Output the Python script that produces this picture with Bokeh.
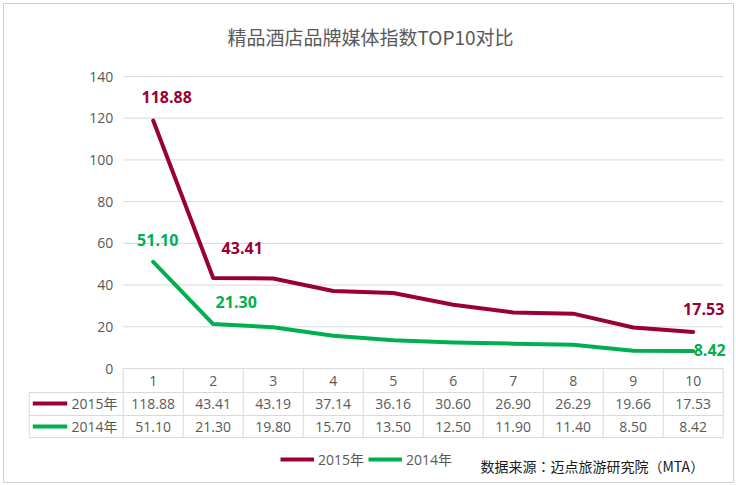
from bokeh.plotting import figure
from bokeh.models import Range1d, ColumnDataSource, Legend, LegendItem
from bokeh.embed import file_html
from bokeh.resources import INLINE
from bokeh.core.properties import value

# ---------------- data ----------------
title_text = "精品酒店品牌媒体指数TOP10对比"
source_note = "数据来源：迈点旅游研究院（MTA）"
categories = [1, 2, 3, 4, 5, 6, 7, 8, 9, 10]
category_labels = ["1", "2", "3", "4", "5", "6", "7", "8", "9", "10"]
series_names = ["2015年", "2014年"]
values_2015 = [118.88, 43.41, 43.19, 37.14, 36.16, 30.60, 26.90, 26.29, 19.66, 17.53]
values_2014 = [51.10, 21.30, 19.80, 15.70, 13.50, 12.50, 11.90, 11.40, 8.50, 8.42]
y_ticks = [0, 20, 40, 60, 80, 100, 120, 140]
y_tick_labels = ["0", "20", "40", "60", "80", "100", "120", "140"]
labelled_2015 = [0, 1, 9]
labelled_2014 = [0, 1, 9]

# ---------------- style / layout ----------------
COLORS = ["#990033", "#00b050"]
GREY = "#595959"
GRID = "#d9d9d9"
LATIN = "'Open Sans', 'Noto Sans CJK SC'"
CJK = "'Noto Sans CJK SC'"
CJK_NOTE = "'Noto Sans CJK TC'"
W, H = 736, 485
B = 3                                  # outer border inset
PLOT_LEFT, COL_W = 122.7, 60.0         # px of x=0.5, px per category
ZERO_Y, PX_PER_UNIT = 368.0, 292.0 / 140.0

X0 = 0.5 + (B - PLOT_LEFT) / COL_W
X1 = 0.5 + (W - B - PLOT_LEFT) / COL_W
Y1 = (ZERO_Y - B) / PX_PER_UNIT
Y0 = (ZERO_Y - (H - B)) / PX_PER_UNIT

lab_dx_2015, lab_dy_2015 = [13.5, 29, 10.5], [-24, -30, -22.5]
lab_dx_2014, lab_dy_2014 = [4.5, 23, 16.5], [-22, -22, -1]

p = figure(width=W, height=H, x_range=Range1d(X0, X1), y_range=Range1d(Y0, Y1),
           output_backend="svg", toolbar_location=None, x_axis_location=None,
           y_axis_location=None, min_border=B)
p.extra_x_ranges = {"px": Range1d(B, W - B)}
p.extra_y_ranges = {"px": Range1d(H - B, B)}
p.outline_line_color = "#d0d0d0"
p.outline_line_width = 1
p.background_fill_color = "white"
p.border_fill_color = "white"
p.grid.visible = False

# title
p.text(x=[370], y=[36], text=[title_text], x_range_name="px", y_range_name="px",
       text_font=value(CJK), text_font_size="19px", text_color=GREY,
       text_align="center", text_baseline="middle")

# value grid + tick labels
first, last = categories[0] - 0.5, categories[-1] + 0.5
p.segment(x0=[first] * len(y_ticks), y0=y_ticks, x1=[last] * len(y_ticks), y1=y_ticks,
          line_color=GRID, line_width=1)
p.text(x=[first] * len(y_ticks), y=y_ticks, text=y_tick_labels, x_offset=-10,
       text_font=value(LATIN), text_font_size="14px", text_color=GREY,
       text_align="right", text_baseline="middle")

# series
for vals, col in ((values_2015, COLORS[0]), (values_2014, COLORS[1])):
    p.line(categories, vals, line_color=col, line_width=4, line_join="round", line_cap="round")

for vals, idx, dx, dy, col in ((values_2015, labelled_2015, lab_dx_2015, lab_dy_2015, COLORS[0]),
                               (values_2014, labelled_2014, lab_dx_2014, lab_dy_2014, COLORS[1])):
    src = ColumnDataSource(dict(x=[categories[i] for i in idx], y=[vals[i] for i in idx],
                                text=[f"{vals[i]:.2f}" for i in idx], dx=dx, dy=dy))
    p.text(x="x", y="y", text="text", x_offset="dx", y_offset="dy", source=src,
           text_font=value(LATIN), text_font_size="16px", text_font_style="bold",
           text_color=col, text_align="center", text_baseline="middle")

# data table
TABLE_TOP, ROW_LINES = ZERO_Y, [392, 415, 437]
TABLE_LEFT_PX = 28.7
CAT_Y, ROW_Y = 380, [403, 426]
KEY_X0, KEY_X1, HEAD_X = 32.3, 66.7, 71

vx = [c - 0.5 for c in categories] + [last]
p.segment(x0=vx, y0=[TABLE_TOP] * len(vx), x1=vx, y1=[ROW_LINES[-1]] * len(vx),
          y_range_name="px", line_color=GRID, line_width=1)
p.segment(x0=[TABLE_LEFT_PX], y0=[ROW_LINES[0]], x1=[TABLE_LEFT_PX], y1=[ROW_LINES[-1]],
          x_range_name="px", y_range_name="px", line_color=GRID, line_width=1)
p.segment(x0=[TABLE_LEFT_PX] * 3, y0=ROW_LINES, x1=[PLOT_LEFT + COL_W * (last - 0.5)] * 3,
          y1=ROW_LINES, x_range_name="px", y_range_name="px", line_color=GRID, line_width=1)

p.text(x=categories, y=[CAT_Y] * len(categories), text=category_labels, y_range_name="px",
       text_font=value(LATIN), text_font_size="14px", text_color=GREY,
       text_align="center", text_baseline="middle")
keys = []
for r, (vals, name, col) in enumerate(((values_2015, series_names[0], COLORS[0]),
                                       (values_2014, series_names[1], COLORS[1]))):
    ty = ROW_Y[r]
    p.text(x=categories, y=[ty] * len(categories), text=[f"{v:.2f}" for v in vals],
           y_range_name="px", text_font=value(LATIN), text_font_size="14px",
           text_color=GREY, text_align="center", text_baseline="middle")
    k = p.segment(x0=[KEY_X0], y0=[ty], x1=[KEY_X1], y1=[ty], x_range_name="px",
                  y_range_name="px", line_color=col, line_width=4)
    keys.append(k)
    p.text(x=[HEAD_X], y=[ty], text=[name], x_range_name="px", y_range_name="px",
           text_font=value(LATIN), text_font_size="14px", text_color=GREY,
           text_align="left", text_baseline="middle")

legend = Legend(items=[LegendItem(label=series_names[i], renderers=[keys[i]]) for i in range(2)],
                orientation="horizontal", location=(277, 13), glyph_width=34, glyph_height=20,
                label_standoff=4, spacing=4, padding=0, margin=0, border_line_color=None,
                background_fill_alpha=0, label_text_font=LATIN, label_text_font_size="14px",
                label_text_color=GREY)
p.add_layout(legend)

p.text(x=[480], y=[465], text=[source_note], x_range_name="px", y_range_name="px",
       text_font=value(CJK_NOTE), text_font_size="14px", text_color="#1a1a1a",
       text_align="left", text_baseline="middle")

open("out.html", "w").write(file_html(p, INLINE))
